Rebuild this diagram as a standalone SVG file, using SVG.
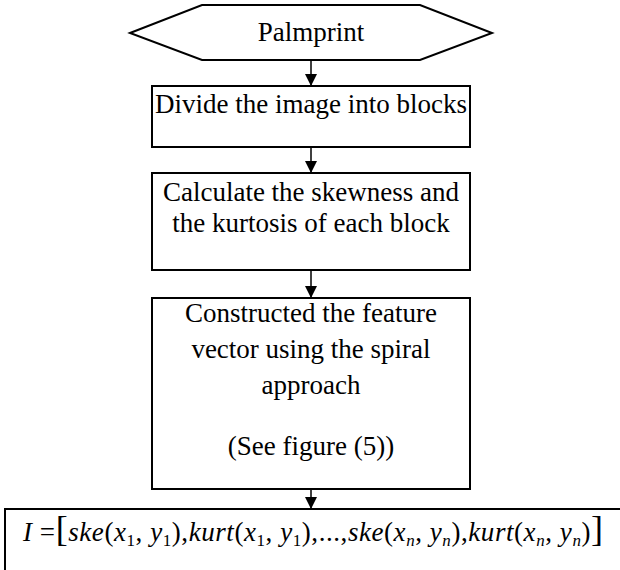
<svg xmlns="http://www.w3.org/2000/svg" width="620" height="570" viewBox="0 0 620 570">
<style>
.box{fill:#fff;stroke:#000;stroke-width:2}
.t{font-family:"Liberation Serif","Times New Roman",serif;font-size:27px;fill:#000;text-anchor:middle}
.m{font-family:"Liberation Serif","Times New Roman",serif;font-size:27px;fill:#000;font-style:italic}
.up{font-style:normal}
.sub{font-size:17px;font-style:normal}
.subi{font-size:17px;font-style:italic}
.br{font-style:normal;font-size:36px}
.conn{stroke:#000;stroke-width:1.5;fill:none}
</style>
<defs>
<marker id="ah" markerUnits="userSpaceOnUse" markerWidth="14" markerHeight="14" refX="12" refY="6" orient="auto">
<path d="M0,0 L12,6 L0,12 Z" fill="#000"/>
</marker>
</defs>
<rect width="620" height="570" fill="#fff"/>
<g id="connectors">
<line class="conn" x1="311" y1="60" x2="311" y2="86" marker-end="url(#ah)"/>
<line class="conn" x1="311" y1="147" x2="311" y2="173" marker-end="url(#ah)"/>
<line class="conn" x1="311" y1="270" x2="311" y2="298" marker-end="url(#ah)"/>
<line class="conn" x1="311" y1="489" x2="311" y2="509" marker-end="url(#ah)"/>
</g>
<g id="palmprint">
<polygon class="box" points="130,33 202,5 420,5 492,33 420,60 202,60"/>
<text class="t" x="311" y="41">Palmprint</text>
</g>
<g id="divide">
<rect class="box" x="152" y="86" width="318" height="61"/>
<text class="t" x="311" y="113">Divide the image into blocks</text>
</g>
<g id="calculate">
<rect class="box" x="152" y="173" width="318" height="97"/>
<text class="t" x="311" y="201">Calculate the skewness and</text>
<text class="t" x="311" y="232">the kurtosis of each block</text>
</g>
<g id="construct">
<rect class="box" x="152" y="298" width="318" height="191"/>
<text class="t" x="311" y="322">Constructed the feature</text>
<text class="t" x="311" y="358">vector using the spiral</text>
<text class="t" x="311" y="394">approach</text>
<text class="t" x="311" y="455">(See figure (5))</text>
</g>
<g id="formula">
<rect class="box" x="5" y="509" width="630" height="80"/>
<text class="m" x="23" y="541" textLength="580" lengthAdjust="spacing">I <tspan class="up">=</tspan><tspan class="br">[</tspan>ske<tspan class="up">(</tspan>x<tspan class="sub" dy="5">1</tspan><tspan class="up" dy="-5">, </tspan>y<tspan class="sub" dy="5">1</tspan><tspan class="up" dy="-5">),</tspan>kurt<tspan class="up">(</tspan>x<tspan class="sub" dy="5">1</tspan><tspan class="up" dy="-5">, </tspan>y<tspan class="sub" dy="5">1</tspan><tspan class="up" dy="-5">),...,</tspan>ske<tspan class="up">(</tspan>x<tspan class="subi" dy="5">n</tspan><tspan class="up" dy="-5">, </tspan>y<tspan class="subi" dy="5">n</tspan><tspan class="up" dy="-5">),</tspan>kurt<tspan class="up">(</tspan>x<tspan class="subi" dy="5">n</tspan><tspan class="up" dy="-5">, </tspan>y<tspan class="subi" dy="5">n</tspan><tspan class="up" dy="-5">)</tspan><tspan class="br">]</tspan></text>
</g>
</svg>
